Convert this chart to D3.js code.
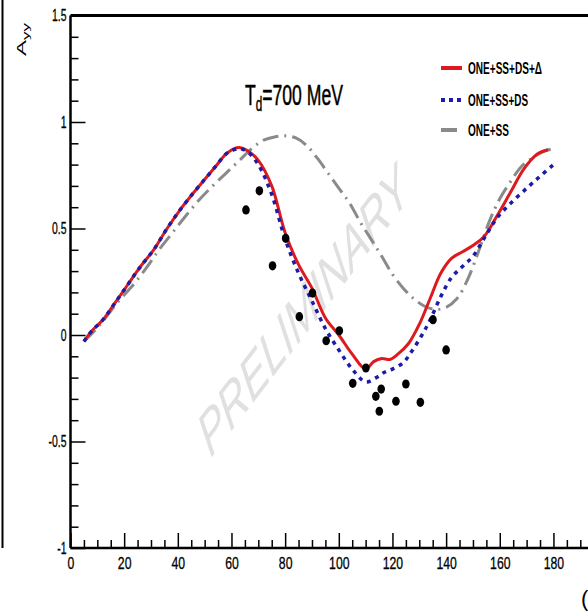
<!DOCTYPE html>
<html><head><meta charset="utf-8">
<script src="https://cdn.jsdelivr.net/npm/d3@7"></script>
<style>
html,body{margin:0;padding:0;background:#fff;overflow:hidden}
svg{display:block}
text{font-family:"Liberation Sans","Arial",sans-serif}
</style></head>
<body>
<svg id="c" width="588" height="611"></svg>
<script>
// ---- data ----
const redTheta = [5,8,12,16,21,26,31,36,41,46,50,54,58,61,63,66,70,75,80,85,90,95,100,105,110,113,116,119,122,126,130,134,138,142,146,150,154,159,164,169,174,178];
const redA     = [-0.03,0.02,0.07,0.14,0.23,0.32,0.40,0.50,0.59,0.67,0.73,0.79,0.85,0.875,0.88,0.865,0.82,0.70,0.48,0.33,0.22,0.08,0.00,-0.09,-0.16,-0.125,-0.11,-0.115,-0.09,-0.04,0.05,0.17,0.29,0.36,0.39,0.42,0.46,0.56,0.67,0.78,0.85,0.87];
const blueTheta = [5,8,12,16,21,26,31,36,41,46,50,54,58,61,63,66,70,75,80,85,90,95,100,105,110,114,117,120,124,127,131,134,138,142,146,150,154,159,165,171,175,180];
const blueA     = [-0.03,0.02,0.07,0.14,0.23,0.32,0.40,0.50,0.59,0.67,0.73,0.79,0.85,0.87,0.875,0.86,0.80,0.66,0.45,0.29,0.16,0.03,-0.07,-0.16,-0.22,-0.20,-0.175,-0.16,-0.13,-0.08,0.0,0.07,0.18,0.27,0.32,0.37,0.45,0.55,0.63,0.70,0.745,0.80];
const greyTheta = [5,9,13,18,23,28,33,38,43,48,53,58,63,68,72,76,80,84,88,92,96,100,104,108,112,116,120,124,128,132,136,140,144,148,152,156,160,164,168,172,176,180];
const greyA     = [-0.03,0.02,0.08,0.16,0.23,0.31,0.40,0.48,0.56,0.635,0.70,0.76,0.82,0.88,0.915,0.93,0.935,0.925,0.89,0.83,0.76,0.69,0.62,0.53,0.45,0.37,0.285,0.22,0.17,0.135,0.12,0.13,0.17,0.26,0.39,0.53,0.64,0.72,0.79,0.83,0.86,0.875];
const dataTheta = [65.4,70.4,75.3,80.2,85.3,90.2,95.3,100.2,105.2,110.1,113.8,115.8,115.1,121.3,125.0,130.4,135.1,140.0];
const dataA     = [0.587,0.677,0.325,0.454,0.086,0.197,-0.027,0.020,-0.227,-0.155,-0.288,-0.254,-0.358,-0.311,-0.230,-0.316,0.072,-0.070];
const xMajorTicks = [0,20,40,60,80,100,120,140,160,180];
const yMajorTicks = [-1,-0.5,0,0.5,1,1.5];
const yTickLabels = ["-1","-0.5","0","0.5","1","1.5"];
const legendLabels = ["ONE+SS+DS+\u0394","ONE+SS+DS","ONE+SS"];
const titleMain = "T", titleSub = "d", titleRest = "=700 MeV";

// ---- helpers ----
function condense(sel, f) {
  sel.each(function() {
    const L = this.getComputedTextLength();
    d3.select(this).attr("textLength", L * f).attr("lengthAdjust", "spacingAndGlyphs");
  });
}

// ---- layout ----
const svg = d3.select("#c");
const x = d3.scaleLinear().domain([0,200]).range([70.5, 70.5 + 200*2.683]);
const y = d3.scaleLinear().domain([-1,1.5]).range([548, 15.5]);

// watermark
svg.append("text")
  .attr("transform","translate(305,314) scale(0.62,1) rotate(-39)")
  .attr("text-anchor","middle")
  .attr("dominant-baseline","middle")
  .style("font-size","62px").style("font-style","italic")
  .attr("fill","#e0e0e0")
  .text("PRELIMINARY");

// left neighbouring panel frame
svg.append("line").attr("x1",2.5).attr("x2",2.5).attr("y1",0).attr("y2",548)
  .attr("stroke","#000").attr("stroke-width",2);

// ticks
const xMinor = d3.range(5,200,5).filter(v => v % 20 !== 0);
const yMinor = d3.range(-9,15).map(v => v/10).filter(v => Math.abs(v*2 - Math.round(v*2)) > 1e-6);

const gx = svg.append("g").attr("transform",`translate(0,${y(-1)})`);
gx.call(d3.axisBottom(x).tickValues(xMinor).tickSize(-8).tickFormat(""));
gx.selectAll("path").remove();
const gx2 = svg.append("g").attr("transform",`translate(0,${y(-1)})`);
gx2.call(d3.axisBottom(x).tickValues(xMajorTicks).tickSize(-15).tickFormat(d3.format("d")));
gx2.selectAll("path").remove();
gx2.selectAll("text").attr("fill","#000").style("font-size","17px").attr("dy","0").attr("y",21)
  .attr("stroke","#000").attr("stroke-width",0.3);

const gy = svg.append("g").attr("transform",`translate(${x(0)},0)`);
gy.call(d3.axisLeft(y).tickValues(yMinor).tickSize(-8).tickFormat(""));
gy.selectAll("path").remove();
const gy2 = svg.append("g").attr("transform",`translate(${x(0)},0)`);
gy2.call(d3.axisLeft(y).tickValues(yMajorTicks).tickSize(-15).tickPadding(4)
  .tickFormat((d,i) => yTickLabels[i]));
gy2.selectAll("path").remove();
gy2.selectAll("text").attr("fill","#000").style("font-size","16px")
  .attr("stroke","#000").attr("stroke-width",0.3);
svg.selectAll(".tick line").attr("stroke","#000").attr("stroke-width",1.5);
condense(gx2.selectAll("text"), 0.72);
condense(gy2.selectAll("text"), 0.65);

// frame lines
svg.append("line").attr("x1",x(0)).attr("x2",588).attr("y1",y(-1)).attr("y2",y(-1)).attr("stroke","#000").attr("stroke-width",2.5);
svg.append("line").attr("x1",x(0)).attr("x2",x(0)).attr("y1",y(1.5)).attr("y2",y(-1)).attr("stroke","#000").attr("stroke-width",2.5);
svg.append("line").attr("x1",x(0)).attr("x2",588).attr("y1",y(1.5)).attr("y2",y(1.5)).attr("stroke","#000").attr("stroke-width",3);

// curves
const line = d3.line().x(d => x(d[0])).y(d => y(d[1])).curve(d3.curveCatmullRom.alpha(0.5));
const zip = (a,b) => a.map((v,i) => [v,b[i]]);
svg.append("path").attr("d",line(zip(greyTheta,greyA))).attr("fill","none")
  .attr("stroke","#8a8a8a").attr("stroke-width",3).attr("stroke-dasharray","16,6,2,6");
svg.append("path").attr("d",line(zip(redTheta,redA))).attr("fill","none")
  .attr("stroke","#dd1a1f").attr("stroke-width",3);
svg.append("path").attr("d",line(zip(blueTheta,blueA))).attr("fill","none")
  .attr("stroke","#1c1ca8").attr("stroke-width",3.5).attr("stroke-dasharray","4,5");

// data points
svg.append("g").selectAll("ellipse").data(zip(dataTheta,dataA)).join("ellipse")
  .attr("cx",d => x(d[0])).attr("cy",d => y(d[1])).attr("rx",3.8).attr("ry",4.6).attr("fill","#000");

// title
const tg = svg.append("g");
const t = tg.append("text").attr("x",0).attr("y",0).style("font-size","30px").attr("fill","#000")
  .attr("stroke","#000").attr("stroke-width",0.5);
t.append("tspan").text(titleMain);
t.append("tspan").attr("dy",6).style("font-size","20px").text(titleSub);
t.append("tspan").attr("dy",-6).text(titleRest);
const tw = t.node().getBBox().width;
tg.attr("transform",`translate(245,105) scale(${98/tw},1)`);

// legend
const legColors = ["#dd1a1f","#1c1ca8","#8a8a8a"];
const legDash = [null,"4,4",null];
const legW = [74,60,41];
const legY = [68,100,130];
legendLabels.forEach((lab,i) => {
  svg.append("line").attr("x1",441).attr("x2",i===2?457:462).attr("y1",legY[i]).attr("y2",legY[i])
    .attr("stroke",legColors[i]).attr("stroke-width",4).attr("stroke-dasharray",legDash[i]);
  svg.append("text").attr("x",468).attr("y",legY[i]+6).style("font-size","16px").style("font-weight","bold")
    .attr("textLength",legW[i]).attr("lengthAdjust","spacingAndGlyphs").attr("fill","#000").text(lab);
});

// y axis label (rotated)
const yl = svg.append("text").attr("transform","translate(26,56) scale(0.5,1) rotate(-90)").style("font-size","24px").attr("fill","#000");
yl.append("tspan").text("A");
yl.append("tspan").attr("dy",5).style("font-size","17px").text("yy");

// x axis label (cut off by the figure edge)
svg.append("text").attr("x",581).attr("y",606).style("font-size","22px").attr("fill","#000").text("(");
</script>
</body></html>
